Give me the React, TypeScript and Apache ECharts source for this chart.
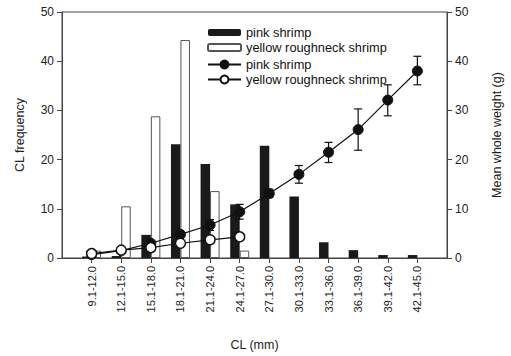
import React, { useEffect, useRef } from "react";
import * as echarts from "echarts";

const categories = ["", "9.1-12.0", "12.1-15.0", "15.1-18.0", "18.1-21.0", "21.1-24.0", "24.1-27.0", "27.1-30.0", "30.1-33.0", "33.1-36.0", "36.1-39.0", "39.1-42.0", "42.1-45.0", ""];
const pinkFreq = [null, 0.3, 0.4, 4.7, 23.1, 19.1, 10.9, 22.8, 12.5, 3.2, 1.6, 0.6, 0.6, null];
const yellowFreq = [null, 1.5, 10.5, 28.8, 44.3, 13.6, 1.5, null, null, null, null, null, null, null];
const pinkWeight = [null, 0.7, 1.5, 3.0, 4.8, 6.7, 9.4, 13.1, 17.0, 21.5, 26.1, 32.1, 38.0, null];
const yellowWeight = [null, 0.9, 1.6, 2.1, 3.0, 3.7, 4.3, null, null, null, null, null, null, null];
// [category index, low, high]
const pinkErr = [
  [4, 4.3, 5.3],
  [5, 5.6, 7.8],
  [6, 7.9, 10.9],
  [7, 12.3, 14.0],
  [8, 15.2, 18.8],
  [9, 19.4, 23.5],
  [10, 21.9, 30.3],
  [11, 28.9, 35.2],
  [12, 35.2, 41.0],
];
const leftTicks = { min: 0, max: 50, interval: 10 };

const FONT = "'Liberation Sans', Arial, sans-serif";
const AX = "#444";

export default function App() {
  const ref = useRef<HTMLDivElement>(null);
  useEffect(() => {
    if (!ref.current) return;
    const chart = echarts.init(ref.current, undefined, { renderer: "svg" });
    const yAxisCommon = {
      type: "value",
      min: leftTicks.min,
      max: leftTicks.max,
      interval: leftTicks.interval,
      nameLocation: "middle",
      nameRotate: 90,
      nameTextStyle: { fontFamily: FONT, fontSize: 12.5, color: "#222" },
      axisLine: { show: true, lineStyle: { color: AX, width: 1 } },
      axisTick: { show: true, length: 5, lineStyle: { color: AX } },
      axisLabel: { fontFamily: FONT, fontSize: 12, color: "#222", margin: 8 },
      splitLine: { show: false },
    };
    const legendText = { fontFamily: FONT, fontSize: 12.8, color: "#111" };
    chart.setOption({
      animation: false,
      backgroundColor: "#fff",
      textStyle: { fontFamily: FONT },
      grid: { left: 62, right: 48, top: 12, bottom: 98, show: true, borderColor: AX, borderWidth: 1, backgroundColor: "transparent" },
      legend: [
        {
          data: ["pink shrimp", "yellow roughneck shrimp"],
          orient: "vertical",
          left: 207,
          top: 26,
          padding: 0,
          itemWidth: 33,
          itemHeight: 7,
          itemGap: 2,
          textStyle: legendText,
        },
        {
          data: ["pink shrimp (weight)", "yellow roughneck shrimp (weight)"],
          orient: "vertical",
          left: 207,
          top: 58,
          padding: 0,
          itemWidth: 33,
          itemHeight: 10,
          itemGap: 2,
          formatter: (n: string) => n.replace(" (weight)", ""),
          textStyle: legendText,
        },
      ],
      xAxis: {
        type: "category",
        data: categories,
        boundaryGap: false,
        name: "CL (mm)",
        nameLocation: "middle",
        nameGap: 80,
        nameTextStyle: { fontFamily: FONT, fontSize: 12.5, color: "#222" },
        axisLine: { show: true, lineStyle: { color: AX, width: 1 } },
        axisTick: { show: true, length: 5, lineStyle: { color: AX }, interval: (i: number) => i > 0 && i < categories.length - 1 },
        axisLabel: { rotate: 90, interval: 0, fontFamily: FONT, fontSize: 11, color: "#222", margin: 8 },
      },
      yAxis: [
        { ...yAxisCommon, name: "CL frequency", nameGap: 36, position: "left" },
        { ...yAxisCommon, name: "Mean whole weight (g)", nameGap: 43, position: "right" },
      ],
      series: [
        {
          name: "pink shrimp",
          type: "bar",
          data: pinkFreq,
          barWidth: 9.5,
          barGap: "0%",
          itemStyle: { color: "#1a1a1a" },
          yAxisIndex: 0,
        },
        {
          name: "yellow roughneck shrimp",
          type: "bar",
          data: yellowFreq,
          barWidth: 9.5,
          barGap: "0%",
          itemStyle: { color: "#fff", borderColor: "#555", borderWidth: 1 },
          yAxisIndex: 0,
        },
        {
          name: "pink error",
          type: "custom",
          yAxisIndex: 1,
          data: pinkErr,
          encode: { x: 0, y: [1, 2] },
          z: 3,
          renderItem: (params: any, api: any) => {
            const x = api.value(0);
            const lo = api.coord([x, api.value(1)]);
            const hi = api.coord([x, api.value(2)]);
            const w = 4;
            const style = { stroke: "#111", lineWidth: 1.2 };
            return {
              type: "group",
              children: [
                { type: "line", shape: { x1: lo[0], y1: lo[1], x2: hi[0], y2: hi[1] }, style },
                { type: "line", shape: { x1: lo[0] - w, y1: lo[1], x2: lo[0] + w, y2: lo[1] }, style },
                { type: "line", shape: { x1: hi[0] - w, y1: hi[1], x2: hi[0] + w, y2: hi[1] }, style },
              ],
            };
          },
        },
        {
          name: "pink shrimp (weight)",
          type: "line",
          yAxisIndex: 1,
          data: pinkWeight,
          symbol: "circle",
          symbolSize: 10,
          z: 4,
          lineStyle: { color: "#111", width: 1.2 },
          itemStyle: { color: "#111", borderColor: "#111", borderWidth: 1 },
        },
        {
          name: "yellow roughneck shrimp (weight)",
          type: "line",
          yAxisIndex: 1,
          data: yellowWeight,
          symbol: "circle",
          symbolSize: 10,
          z: 4,
          lineStyle: { color: "#111", width: 1.2 },
          itemStyle: { color: "#fff", borderColor: "#111", borderWidth: 1.5 },
        },
      ],
    });
    return () => chart.dispose();
  }, []);
  return <div ref={ref} style={{ width: 511, height: 356, position: "absolute", left: 0, top: 0 }} />;
}
